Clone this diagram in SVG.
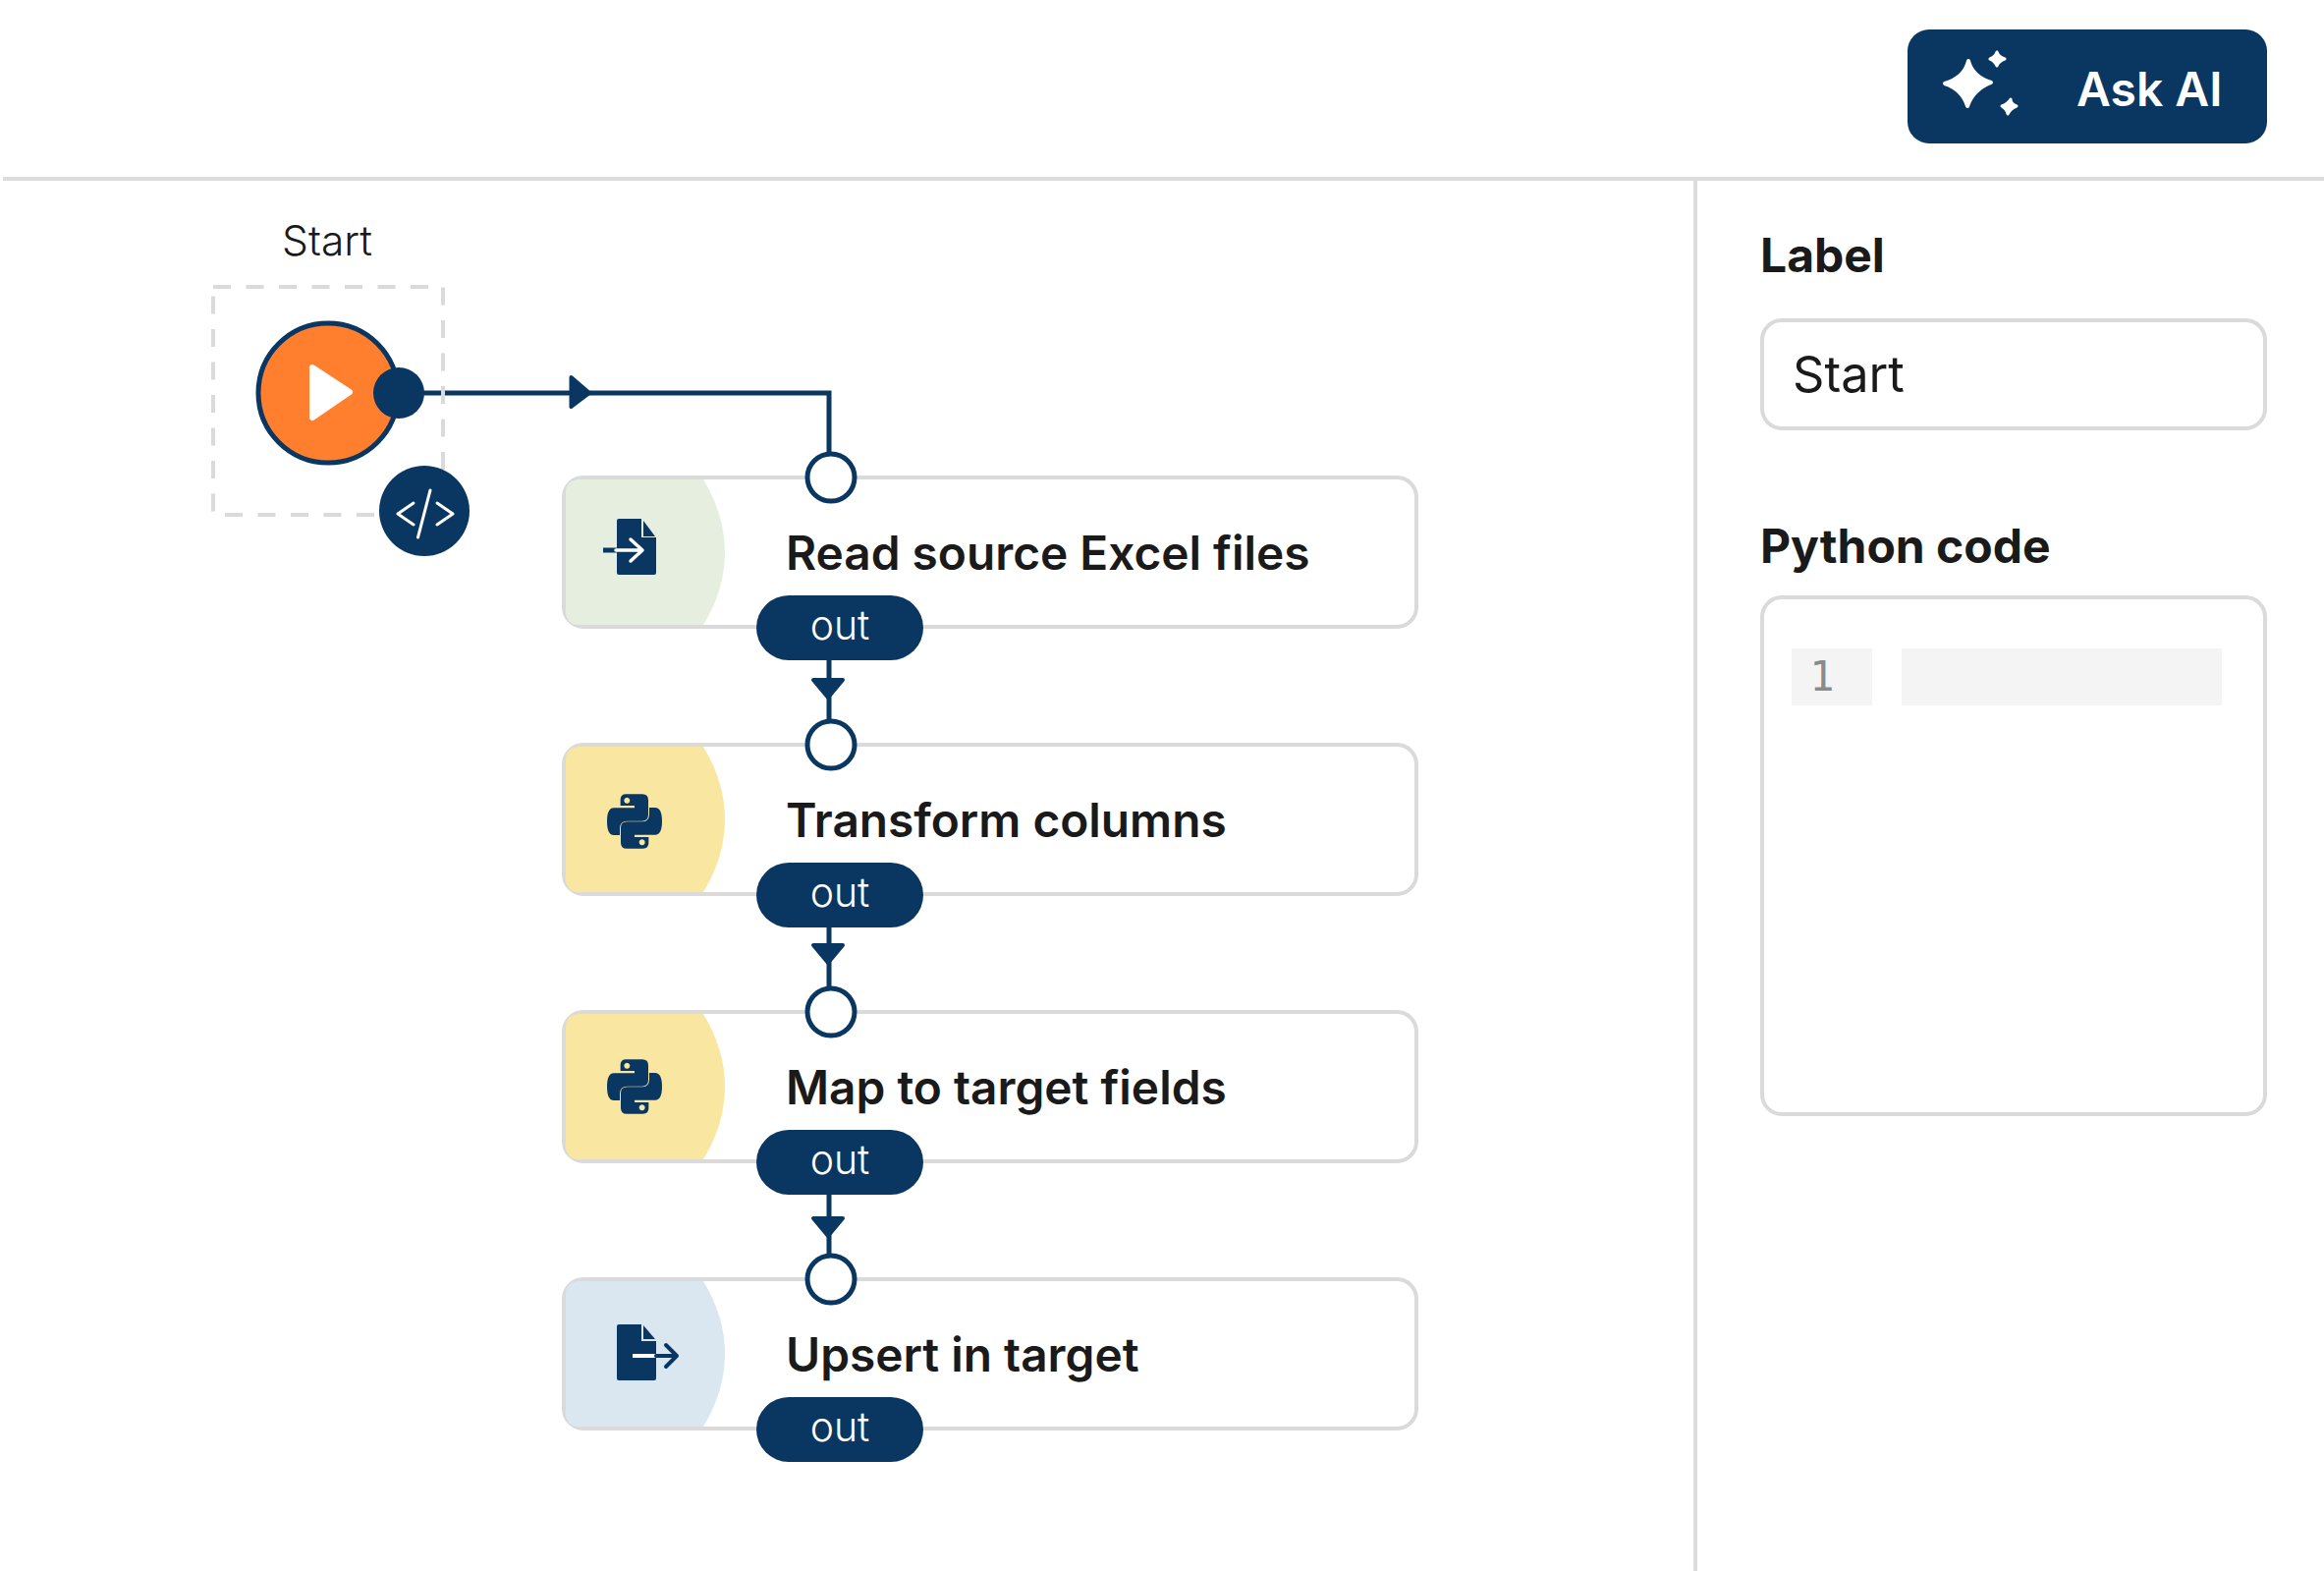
<svg xmlns="http://www.w3.org/2000/svg" xmlns:xlink="http://www.w3.org/1999/xlink" width="2366" height="1599" viewBox="0 0 2366 1599">
<style>
text{font-family:Inter,"Liberation Sans",sans-serif;fill:#1a1a1a}
.rule{stroke:#dcdcdc;stroke-width:4;fill:none}
.box{fill:#fff;stroke:#dadada;stroke-width:4}
.title{font-size:47.800px;font-weight:600}
.head{font-size:48px;font-weight:700}
.pill{fill:#0a3761}
.out{font-size:41px;font-weight:300;fill:#fff;text-anchor:middle}
.conn{fill:none;stroke:#0a3761;stroke-width:5}
.arr{fill:#0a3761;stroke:#0a3761;stroke-width:4;stroke-linejoin:round}
.port{fill:#fff;stroke:#0a3761;stroke-width:5}
.navy{fill:#0a3761}
.wl{fill:none;stroke:#fff;stroke-width:3.5;stroke-linecap:round;stroke-linejoin:round}
</style>
<defs>
<path id="band" d="M590 760H716Q738 796 738 834Q738 872 716 908H590Q576 908 576 894V774Q576 760 590 760Z"/>
<g id="py" transform="translate(560 740) scale(.3333)">
<path id="snake" class="navy" fill-rule="evenodd" d="M232 205H282Q300 205 300 223V268Q300 287 280 287H235Q213 287 213 310V330H195Q174 330 174 288Q174 247 195 247H258V240H215V222Q215 205 232 205ZM235 215a9 9 0 1 0 .01 0Z"/>
<use xlink:href="#snake" href="#snake" transform="rotate(180 258 288)"/>
</g>
</defs>
<rect width="2366" height="1599" fill="#fff"/>
<g id="frame">
<path class="rule" d="M3 182H2366M1726 182V1599"/>
</g>
<g id="connectors">
<path class="conn" d="M405 400H844V486"/>
<path class="arr" d="M581.500 384L600 400L581.500 414Z"/>
<path class="conn" d="M844 672V758"/>
<path class="conn" d="M844 944V1030"/>
<path class="conn" d="M844 1216V1302"/>
<path class="arr" d="M828 692H858L843 710Z"/>
<path class="arr" d="M828 962H858L843 980Z"/>
<path class="arr" d="M828 1240H858L843 1258Z"/>
</g>
<g id="node-start">
<text x="333" y="260" font-size="42.500" font-weight="300" text-anchor="middle">Start</text>
<rect x="217" y="292" width="234" height="232" fill="none" stroke="#dadada" stroke-width="4" stroke-dasharray="18 15.500"/>
<circle cx="334" cy="400" r="71" fill="#ff7f2e" stroke="#0a3761" stroke-width="5"/>
<path d="M318 374L356 399L318 425Z" fill="#fff" stroke="#fff" stroke-width="6" stroke-linejoin="round"/>
<circle cx="406" cy="400" r="26" class="navy"/>
<circle cx="432" cy="520" r="46" class="navy"/>
<path class="wl" d="M421 512L405 523L421 534M445 512L461 523L445 534M438 499L425.500 547" style="stroke-width:3"/>
</g>
<g id="node-read">
<rect class="box" x="574" y="486" width="868" height="152" rx="20"/>
<use xlink:href="#band" href="#band" fill="#e6efdf" transform="translate(0 -272)"/>
<path class="navy" d="M630 528H653V547H668V583Q668 585 666 585H630Q628 585 628 583V530Q628 528 630 528Z"/>
<path class="navy" d="M655 530L667 546H655Z"/>
<path d="M614 560H630" stroke="#0a3761" stroke-width="5" fill="none"/>
<path d="M627 560H653M642 549L654 560L642 571" stroke="#fff" stroke-width="3.500" fill="none" stroke-linecap="round" stroke-linejoin="round"/>
<text class="title" x="800" y="580">Read source Excel files</text>
<rect class="pill" x="770" y="606" width="170" height="66" rx="33"/>
<text class="out" x="855" y="651">out</text>
<circle class="port" cx="846" cy="486" r="24"/>
</g>
<g id="node-transform">
<rect class="box" x="574" y="758" width="868" height="152" rx="20"/>
<use xlink:href="#band" href="#band" fill="#f9e6a0"/>
<use xlink:href="#py" href="#py"/>
<text class="title" x="800" y="852">Transform columns</text>
<rect class="pill" x="770" y="878" width="170" height="66" rx="33"/>
<text class="out" x="855" y="923">out</text>
<circle class="port" cx="846" cy="758" r="24"/>
</g>
<g id="node-map">
<rect class="box" x="574" y="1030" width="868" height="152" rx="20"/>
<use xlink:href="#band" href="#band" fill="#f9e6a0" transform="translate(0 272)"/>
<use xlink:href="#py" href="#py" transform="translate(0 270)"/>
<text class="title" x="800" y="1124">Map to target fields</text>
<rect class="pill" x="770" y="1150" width="170" height="66" rx="33"/>
<text class="out" x="855" y="1195">out</text>
<circle class="port" cx="846" cy="1030" r="24"/>
</g>
<g id="node-upsert">
<rect class="box" x="574" y="1302" width="868" height="152" rx="20"/>
<use xlink:href="#band" href="#band" fill="#dae7f1" transform="translate(0 544)"/>
<path class="navy" d="M630 1348H653V1365H668V1403Q668 1405 666 1405H630Q628 1405 628 1403V1350Q628 1348 630 1348Z"/>
<path class="navy" d="M655 1349L667 1363H655Z"/>
<path d="M644 1380H668" stroke="#fff" stroke-width="4" fill="none"/>
<path d="M668 1380H688M678 1369L689 1380L678 1391" stroke="#0a3761" stroke-width="4" fill="none" stroke-linecap="round" stroke-linejoin="round"/>
<text class="title" x="800" y="1396">Upsert in target</text>
<rect class="pill" x="770" y="1422" width="170" height="66" rx="33"/>
<text class="out" x="855" y="1467">out</text>
<circle class="port" cx="846" cy="1302" r="24"/>
</g>
<g id="ask-ai">
<rect class="pill" x="1942" y="30" width="366" height="116" rx="22"/>
<path fill="#fff" stroke="#fff" stroke-width="4" stroke-linejoin="round" d="M2004 62Q2008 78 2027 84Q2009 91 2003 108Q1998 91 1980 85Q2000 79 2004 62Z"/>
<path fill="#fff" stroke="#fff" stroke-width="3" stroke-linejoin="round" d="M2033 53Q2035 58 2041 60Q2035 62 2033 67Q2031 62 2026 60Q2031 58 2033 53Z"/>
<path fill="#fff" stroke="#fff" stroke-width="3" stroke-linejoin="round" d="M2047 101Q2047 106 2053 108Q2047 110 2044 116Q2043 111 2038 108Q2044 106 2047 101Z"/>
<text x="2114" y="108" font-size="48" font-weight="600" style="fill:#fff">Ask AI</text>
</g>
<g id="panel-label">
<text class="head" x="1792" y="277">Label</text>
<rect class="box" x="1794" y="326" width="512" height="110" rx="20"/>
<text x="1825" y="399" font-size="50.500">Start</text>
</g>
<g id="panel-code">
<text class="head" x="1792" y="573">Python code</text>
<rect class="box" x="1794" y="608" width="512" height="526" rx="20"/>
<rect x="1824" y="660" width="82" height="58" fill="#f4f4f4"/>
<rect x="1936" y="660" width="326" height="58" fill="#f4f4f4"/>
<text x="1855" y="703" font-size="42" text-anchor="middle" style="font-family:'DejaVu Sans Mono',monospace;fill:#8a8a8a">1</text>
</g>
</svg>
